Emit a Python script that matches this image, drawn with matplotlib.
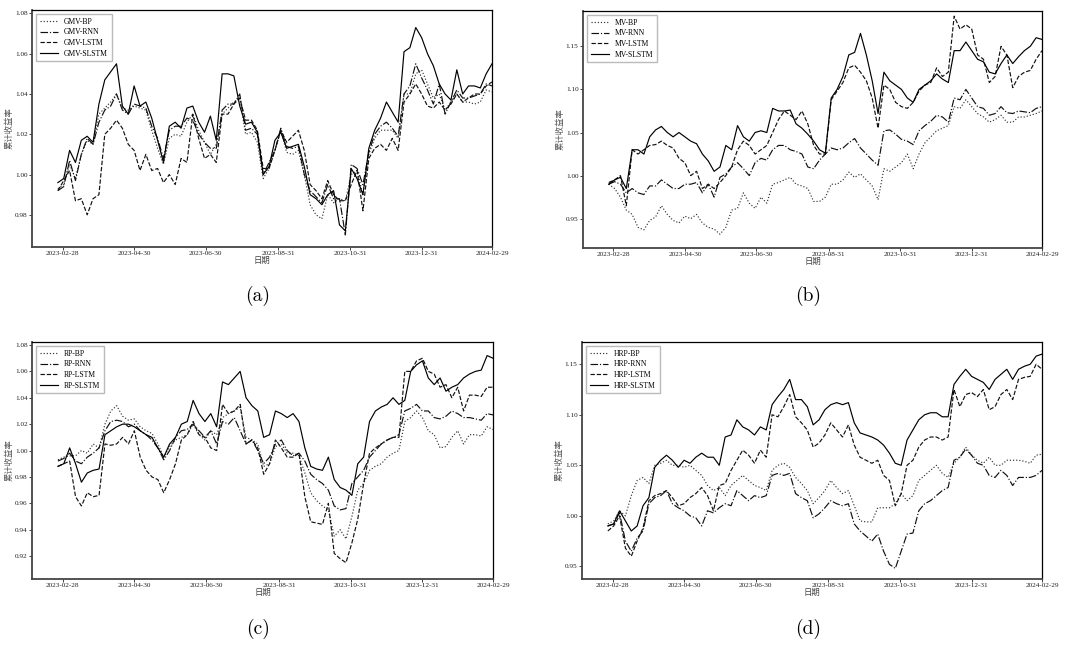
import numpy as np
import pandas as pd
import matplotlib
matplotlib.use("Agg")
import matplotlib.pyplot as plt

plt.rcParams['font.family'] = ['Liberation Serif', 'Noto Sans CJK SC', 'DejaVu Sans']

# sample dates (every 5 calendar days)
dates = pd.date_range("2023-02-24", "2024-02-29", freq="5D")
tick_dates = ['2023-02-28', '2023-04-30', '2023-06-30', '2023-08-31',
              '2023-10-31', '2023-12-31', '2024-02-29']
methods = ['BP', 'RNN', 'LSTM', 'SLSTM']

# (a) GMV
gmv_bp = [0.993, 0.995, 1.005, 0.998, 1.010, 1.017, 1.015, 1.030, 1.033, 1.036, 1.040, 1.033, 1.032, 1.034, 1.033,
          1.032, 1.022, 1.013, 1.005, 1.018, 1.020, 1.019, 1.026, 1.030, 1.022, 1.016, 1.010, 1.015, 1.030, 1.033,
          1.036, 1.038, 1.020, 1.021, 1.016, 0.998, 1.003, 1.012, 1.022, 1.011, 1.010, 1.012, 1.000, 0.985, 0.980,
          0.978, 0.990, 0.986, 0.988, 0.987, 1.000, 1.002, 0.990, 1.010, 1.018, 1.022, 1.022, 1.022, 1.018, 1.040,
          1.040, 1.050, 1.052, 1.045, 1.038, 1.040, 1.032, 1.036, 1.040, 1.036, 1.036, 1.035, 1.036, 1.042, 1.041]
gmv_rnn = [0.992, 0.994, 1.007, 0.997, 1.010, 1.018, 1.015, 1.026, 1.032, 1.034, 1.040, 1.032, 1.030, 1.035, 1.034,
           1.033, 1.024, 1.018, 1.008, 1.022, 1.024, 1.024, 1.028, 1.027, 1.020, 1.016, 1.013, 1.013, 1.032, 1.035,
           1.035, 1.040, 1.022, 1.023, 1.020, 1.000, 1.006, 1.012, 1.023, 1.014, 1.013, 1.014, 1.000, 0.992, 0.989,
           0.986, 0.995, 0.988, 0.988, 0.970, 1.005, 1.003, 0.995, 1.011, 1.020, 1.024, 1.026, 1.023, 1.019, 1.040,
           1.044, 1.055, 1.048, 1.042, 1.035, 1.045, 1.030, 1.036, 1.042, 1.038, 1.038, 1.039, 1.040, 1.045, 1.044]
gmv_lstm = [0.992, 0.997, 1.002, 0.987, 0.988, 0.980, 0.988, 0.990, 1.020, 1.023, 1.027, 1.023, 1.015, 1.012, 1.002,
            1.010, 1.002, 1.003, 0.996, 1.000, 0.995, 1.008, 1.006, 1.030, 1.018, 1.008, 1.010, 1.006, 1.030, 1.030,
            1.035, 1.038, 1.027, 1.027, 1.022, 1.003, 1.003, 1.012, 1.022, 1.016, 1.019, 1.022, 1.012, 0.995, 0.992,
            0.988, 0.997, 0.990, 0.987, 0.987, 0.995, 1.002, 0.982, 1.008, 1.013, 1.015, 1.012, 1.018, 1.012, 1.036,
            1.040, 1.045, 1.040, 1.034, 1.033, 1.036, 1.032, 1.035, 1.040, 1.036, 1.038, 1.040, 1.040, 1.044, 1.046]
gmv_slstm = [0.996, 0.998, 1.012, 1.006, 1.017, 1.019, 1.016, 1.035, 1.047, 1.051, 1.055, 1.034, 1.030, 1.044, 1.034,
             1.036, 1.028, 1.017, 1.006, 1.024, 1.026, 1.023, 1.033, 1.034, 1.026, 1.021, 1.029, 1.017, 1.050, 1.050,
             1.049, 1.034, 1.025, 1.026, 1.021, 1.000, 1.004, 1.017, 1.021, 1.013, 1.014, 1.015, 1.004, 0.990, 0.988,
             0.985, 0.990, 0.992, 0.975, 0.972, 1.003, 0.998, 0.990, 1.013, 1.022, 1.028, 1.036, 1.031, 1.026, 1.061,
             1.063, 1.073, 1.068, 1.060, 1.054, 1.045, 1.040, 1.037, 1.052, 1.040, 1.044, 1.044, 1.043, 1.050, 1.055]

# (b) MV
mv_bp = [0.990, 0.985, 0.975, 0.960, 0.955, 0.940, 0.937, 0.948, 0.952, 0.965, 0.955, 0.948, 0.945, 0.953, 0.950,
         0.955, 0.945, 0.940, 0.938, 0.932, 0.940, 0.960, 0.962, 0.980, 0.968, 0.962, 0.975, 0.968, 0.990, 0.992,
         0.995, 0.998, 0.990, 0.988, 0.985, 0.970, 0.970, 0.975, 0.990, 0.990, 0.995, 1.004, 0.998, 1.002, 0.995,
         0.988, 0.972, 1.008, 1.005, 1.010, 1.015, 1.025, 1.008, 1.025, 1.038, 1.045, 1.052, 1.055, 1.058, 1.080,
         1.078, 1.088, 1.080, 1.072, 1.068, 1.062, 1.065, 1.070, 1.062, 1.062, 1.068, 1.068, 1.070, 1.072, 1.075]
mv_rnn = [0.990, 0.993, 0.990, 0.980, 0.985, 0.980, 0.978, 0.988, 0.988, 0.995, 0.990, 0.985, 0.985, 0.990, 0.990,
          0.992, 0.980, 0.990, 0.975, 0.998, 1.002, 1.010, 1.015, 1.008, 1.000, 1.015, 1.020, 1.018, 1.030, 1.035,
          1.035, 1.030, 1.028, 1.025, 1.010, 1.008, 1.018, 1.025, 1.032, 1.030, 1.032, 1.038, 1.043, 1.032, 1.025,
          1.018, 1.012, 1.052, 1.053, 1.048, 1.042, 1.040, 1.036, 1.052, 1.058, 1.063, 1.070, 1.068, 1.062, 1.090,
          1.088, 1.100, 1.090, 1.080, 1.078, 1.070, 1.072, 1.080, 1.073, 1.072, 1.075, 1.074, 1.073, 1.078, 1.080]
mv_lstm = [0.992, 0.995, 1.000, 0.965, 1.030, 1.025, 1.030, 1.035, 1.036, 1.040, 1.035, 1.032, 1.020, 1.015, 1.000,
           1.005, 0.985, 0.990, 0.985, 0.992, 1.000, 1.010, 1.030, 1.040, 1.035, 1.025, 1.030, 1.035, 1.050, 1.065,
           1.075, 1.070, 1.065, 1.075, 1.060, 1.035, 1.025, 1.025, 1.088, 1.098, 1.108, 1.125, 1.128, 1.120, 1.110,
           1.090, 1.055, 1.105, 1.100, 1.085, 1.080, 1.078, 1.085, 1.098, 1.105, 1.108, 1.125, 1.115, 1.120, 1.185,
           1.170, 1.175, 1.170, 1.140, 1.135, 1.108, 1.115, 1.150, 1.140, 1.102, 1.115, 1.120, 1.122, 1.135, 1.145]
mv_slstm = [0.990, 0.995, 0.998, 0.985, 1.030, 1.030, 1.025, 1.045, 1.053, 1.057, 1.050, 1.045, 1.050, 1.045, 1.040,
            1.037, 1.025, 1.017, 1.005, 1.010, 1.035, 1.030, 1.058, 1.045, 1.040, 1.050, 1.052, 1.050, 1.078, 1.075,
            1.075, 1.076, 1.060, 1.055, 1.048, 1.040, 1.030, 1.026, 1.090, 1.100, 1.115, 1.140, 1.143, 1.165, 1.140,
            1.110, 1.072, 1.120, 1.110, 1.105, 1.100, 1.090, 1.085, 1.100, 1.105, 1.110, 1.118, 1.112, 1.108, 1.145,
            1.145, 1.155, 1.145, 1.135, 1.132, 1.120, 1.118, 1.130, 1.140, 1.130, 1.138, 1.145, 1.150, 1.160, 1.158]

# (c) RP
rp_bp = [0.993, 0.995, 0.996, 0.996, 1.000, 0.998, 1.005, 1.002, 1.020, 1.030, 1.034, 1.026, 1.023, 1.024, 1.018,
         1.015, 1.013, 1.005, 0.995, 1.003, 1.008, 1.010, 1.012, 1.020, 1.012, 1.008, 1.015, 1.012, 1.025, 1.028,
         1.030, 1.033, 1.010, 1.008, 1.005, 0.988, 0.990, 1.003, 1.005, 0.998, 0.998, 0.996, 0.983, 0.968, 0.962,
         0.958, 0.955, 0.935, 0.940, 0.933, 0.950, 0.970, 0.975, 0.985, 0.988, 0.990, 0.995, 0.998, 1.000, 1.022,
         1.025, 1.030, 1.025, 1.015, 1.012, 1.002, 1.003, 1.010, 1.015, 1.005, 1.012, 1.012, 1.011, 1.018, 1.016]
rp_rnn = [0.992, 0.994, 0.998, 0.992, 0.990, 0.995, 0.998, 1.002, 1.015, 1.022, 1.023, 1.022, 1.018, 1.020, 1.015,
          1.012, 1.008, 1.002, 0.993, 1.000, 1.010, 1.015, 1.016, 1.020, 1.015, 1.010, 1.015, 1.005, 1.022, 1.020,
          1.025, 1.015, 1.005, 1.008, 1.000, 0.990, 0.995, 1.005, 1.008, 1.000, 0.996, 0.998, 0.992, 0.982, 0.978,
          0.975, 0.970, 0.958, 0.955, 0.956, 0.975, 0.980, 0.985, 0.995, 1.000, 1.005, 1.008, 1.010, 1.012, 1.030,
          1.032, 1.035, 1.030, 1.030, 1.025, 1.024, 1.026, 1.030, 1.028, 1.025, 1.025, 1.024, 1.023, 1.028, 1.027]
rp_lstm = [0.988, 0.990, 0.992, 0.965, 0.958, 0.968, 0.965, 0.966, 1.005, 1.004, 1.005, 1.010, 1.005, 1.015, 0.995,
           0.985, 0.980, 0.978, 0.968, 0.978, 0.990, 1.008, 1.012, 1.022, 1.012, 1.010, 1.002, 1.000, 1.035, 1.028,
           1.030, 1.035, 1.005, 1.008, 1.002, 0.982, 0.990, 1.008, 1.002, 0.995, 0.995, 0.998, 0.965, 0.946, 0.945,
           0.944, 0.960, 0.922, 0.918, 0.915, 0.930, 0.948, 0.975, 0.998, 1.002, 1.005, 1.008, 1.010, 1.010, 1.060,
           1.060, 1.068, 1.070, 1.060, 1.058, 1.048, 1.050, 1.040, 1.048, 1.030, 1.042, 1.042, 1.041, 1.048, 1.048]
rp_slstm = [0.988, 0.990, 1.002, 0.990, 0.976, 0.983, 0.985, 0.986, 1.012, 1.015, 1.018, 1.020, 1.020, 1.018, 1.015,
            1.012, 1.010, 1.002, 0.995, 1.005, 1.010, 1.020, 1.022, 1.038, 1.028, 1.022, 1.028, 1.018, 1.052, 1.050,
            1.055, 1.060, 1.040, 1.034, 1.030, 1.010, 1.012, 1.030, 1.028, 1.025, 1.028, 1.022, 1.002, 0.988, 0.986,
            0.985, 0.995, 0.978, 0.972, 0.970, 0.966, 0.990, 0.995, 1.022, 1.030, 1.033, 1.035, 1.040, 1.035, 1.038,
            1.060, 1.065, 1.068, 1.055, 1.050, 1.055, 1.045, 1.048, 1.050, 1.055, 1.058, 1.060, 1.061, 1.072, 1.070]

# (d) HRP
hrp_bp = [0.992, 0.995, 1.005, 1.000, 1.020, 1.035, 1.038, 1.032, 1.050, 1.052, 1.055, 1.050, 1.050, 1.048, 1.050,
          1.045, 1.040, 1.030, 1.025, 1.028, 1.020, 1.030, 1.035, 1.040, 1.035, 1.030, 1.028, 1.025, 1.045, 1.050,
          1.052, 1.048, 1.038, 1.032, 1.025, 1.012, 1.018, 1.025, 1.035, 1.028, 1.022, 1.025, 1.010, 0.995, 0.994,
          0.994, 1.008, 1.008, 1.008, 1.012, 1.022, 1.015, 1.020, 1.035, 1.040, 1.045, 1.050, 1.042, 1.038, 1.052,
          1.058, 1.068, 1.060, 1.055, 1.052, 1.058, 1.050, 1.050, 1.055, 1.055, 1.055, 1.054, 1.052, 1.060, 1.061]
hrp_rnn = [0.990, 0.992, 1.003, 0.975, 0.965, 0.978, 0.985, 1.012, 1.018, 1.020, 1.025, 1.012, 1.008, 1.005, 1.000,
           0.998, 0.990, 1.005, 1.003, 1.008, 1.012, 1.010, 1.025, 1.020, 1.015, 1.020, 1.018, 1.020, 1.040, 1.042,
           1.040, 1.042, 1.022, 1.018, 1.015, 0.998, 1.002, 1.008, 1.015, 1.012, 1.010, 1.012, 0.992, 0.985, 0.980,
           0.975, 0.982, 0.965, 0.952, 0.948, 0.965, 0.982, 0.983, 1.005, 1.012, 1.015, 1.020, 1.025, 1.028, 1.055,
           1.058, 1.066, 1.060, 1.052, 1.050, 1.040, 1.038, 1.045, 1.040, 1.030, 1.038, 1.038, 1.038, 1.040, 1.045]
hrp_lstm = [0.985, 0.990, 1.000, 0.968, 0.960, 0.975, 0.988, 1.015, 1.020, 1.022, 1.025, 1.018, 1.010, 1.012, 1.018,
            1.022, 1.028, 1.020, 1.005, 1.030, 1.032, 1.045, 1.055, 1.065, 1.060, 1.052, 1.065, 1.058, 1.100, 1.098,
            1.108, 1.120, 1.098, 1.092, 1.085, 1.068, 1.072, 1.080, 1.092, 1.085, 1.078, 1.090, 1.070, 1.058, 1.055,
            1.052, 1.055, 1.040, 1.035, 1.010, 1.022, 1.050, 1.055, 1.068, 1.075, 1.078, 1.078, 1.075, 1.078, 1.125,
            1.108, 1.120, 1.122, 1.118, 1.125, 1.105, 1.108, 1.120, 1.125, 1.115, 1.135, 1.137, 1.138, 1.150, 1.145]
hrp_slstm = [0.990, 0.992, 1.005, 0.995, 0.985, 0.990, 1.010, 1.018, 1.048, 1.055, 1.060, 1.055, 1.048, 1.055, 1.052,
             1.058, 1.062, 1.058, 1.058, 1.050, 1.078, 1.080, 1.095, 1.088, 1.085, 1.080, 1.088, 1.085, 1.110, 1.118,
             1.125, 1.135, 1.115, 1.115, 1.108, 1.090, 1.095, 1.105, 1.110, 1.112, 1.110, 1.112, 1.092, 1.082, 1.080,
             1.078, 1.075, 1.070, 1.062, 1.052, 1.050, 1.075, 1.085, 1.095, 1.100, 1.102, 1.102, 1.098, 1.098, 1.130,
             1.138, 1.145, 1.138, 1.135, 1.132, 1.125, 1.135, 1.140, 1.145, 1.135, 1.145, 1.148, 1.150, 1.158, 1.160]

panels = [
    ('GMV', [gmv_bp, gmv_rnn, gmv_lstm, gmv_slstm], [0.98, 1.00, 1.02, 1.04, 1.06, 1.08], (0.964, 1.0817), '(a)'),
    ('MV', [mv_bp, mv_rnn, mv_lstm, mv_slstm], [0.95, 1.00, 1.05, 1.10, 1.15], (0.916, 1.191), '(b)'),
    ('RP', [rp_bp, rp_rnn, rp_lstm, rp_slstm], [0.92, 0.94, 0.96, 0.98, 1.00, 1.02, 1.04, 1.06, 1.08], (0.9026, 1.0823), '(c)'),
    ('HRP', [hrp_bp, hrp_rnn, hrp_lstm, hrp_slstm], [0.95, 1.00, 1.05, 1.10, 1.15], (0.9375, 1.172), '(d)'),
]
styles = [':', '-.', '--', '-']
colors = ['#333333', '#111111', '#111111', '#000000']

# axes boxes [left, bottom, width, height] in figure fractions
boxes = [[0.0298, 0.6176, 0.4279, 0.3669],
         [0.5423, 0.6161, 0.4270, 0.3669],
         [0.0298, 0.1037, 0.4288, 0.3669],
         [0.5414, 0.1037, 0.4279, 0.3669]]
caption_pos = [(0.240, 0.526), (0.752, 0.526), (0.240, 0.011), (0.752, 0.011)]

fig = plt.figure(figsize=(10.75, 6.46), dpi=100)

for (name, series, yticks, ylim, cap), box, cpos in zip(panels, boxes, caption_pos):
    ax = fig.add_axes(box)
    for vals, m, ls, c in zip(series, methods, styles, colors):
        ax.plot(dates, vals, linestyle=ls, color=c, lw=0.85, label=f'{name}-{m}')
    ax.set_xlim(pd.Timestamp('2023-02-02'), pd.Timestamp('2024-02-29'))
    ax.set_ylim(*ylim)
    ax.set_xticks(pd.to_datetime(tick_dates))
    ax.set_xticklabels(tick_dates)
    ax.set_yticks(yticks)
    ax.set_yticklabels([f'{v:.2f}' for v in yticks])
    ax.tick_params(labelsize=5.2, length=2, width=0.6, pad=1.2, colors='#222222')
    for side in ['left', 'bottom']:
        ax.spines[side].set_linewidth(1.3)
        ax.spines[side].set_color('#444444')
    for side in ['top', 'right']:
        ax.spines[side].set_linewidth(0.9)
    ax.set_xlabel('日期', fontsize=6, labelpad=0.5, color='#444444')
    ax.set_ylabel('累计收益率', fontsize=6, color='#555555')
    ax.yaxis.set_label_coords(-0.040, 0.5)
    ax.legend(loc='upper left', fontsize=5.5, handlelength=2.4, labelspacing=0.35,
              borderpad=0.5, framealpha=1, edgecolor='#bbbbbb', fancybox=False)
    fig.text(cpos[0], cpos[1], cap, fontsize=14, fontfamily='cmr10', ha='center', va='bottom')

fig.savefig('out.png', dpi=100)
